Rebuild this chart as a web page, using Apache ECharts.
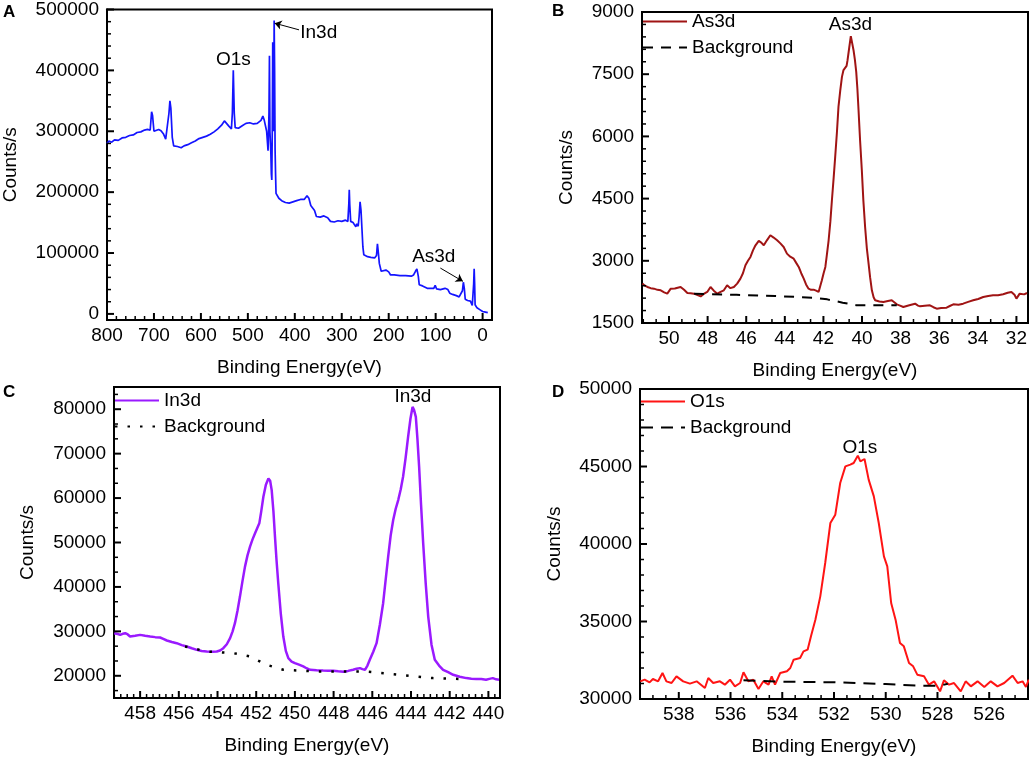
<!DOCTYPE html>
<html>
<head>
<meta charset="utf-8">
<script src="https://cdn.jsdelivr.net/npm/echarts@6/dist/echarts.min.js"></script>
<style>
html, body { margin: 0; padding: 0; background: #fff; }
#main { width: 1031px; height: 757px; }
</style>
</head>
<body>
<div id="main"></div>
<script>
const FONT = 'Liberation Sans';

// A: survey spectrum
const surveyE = [800,796,790,784,776,768,760,752,744,736,728,720,714,708,705,703,700,696,690,685,680,675,671,668,666,664,661,658,650,642,636,628,620,612,604,596,588,580,572,564,556,550,546,540,535,533,531,529,527,520,512,504,496,488,480,472,468,465,460,457,455,454,453,451,450,449,448,447,446,445,444,443,442,441,440,434,428,420,412,404,396,388,380,374,370,366,362,358,354,346,338,334,330,324,316,308,300,292,287,285,284,283,281,276,272,270,268,265,263,261,259,257,255,253,245,238,230,226,224,222,220,216,212,206,203,200,196,188,176,164,152,147,143,140,137,135,128,124,118,110,104,101,98,90,80,74,70,64,56,50,46,43,41,39,37,32,26,22,20,19,18,17,16,12,6,0,-6,-11];
const surveyC = [280000,284000,282000,286000,285000,289000,290000,293000,294000,298000,299000,302000,303000,302000,332000,326000,300000,298000,303000,301000,296000,287000,284000,330000,350000,338000,290000,276000,275000,273000,276000,278000,281000,284000,288000,290000,292000,295000,299000,304000,310000,317000,315000,308000,304000,330000,400000,330000,306000,305000,309000,313000,314000,312000,313000,318000,325000,318000,300000,268000,330000,424000,300000,264000,230000,220000,300000,446000,420000,300000,482000,400000,270000,230000,198000,190000,186000,183000,182000,184000,186000,188000,188000,194000,190000,178000,174000,170000,160000,159000,161000,164000,158000,152000,151000,153000,152000,154000,152000,180000,204000,180000,152000,150000,150000,143000,148000,144000,160000,184000,170000,140000,110000,97000,94000,93000,92000,96000,115000,100000,83000,70000,67000,72000,75000,69000,64000,64000,63000,63000,62000,64000,70000,74000,62000,48000,46000,44000,42000,42000,42000,47000,41000,40000,42000,40000,34000,32000,30000,28000,30000,38000,52000,42000,24000,22000,21000,14000,13000,50000,74000,50000,15000,10000,7000,4000,3000,2000];

// B: As3d
const as3dE = [51.38,51.25,51.12,50.95,50.78,50.60,50.43,50.25,50.09,49.91,49.70,49.55,49.40,49.22,49.05,48.88,48.71,48.55,48.36,48.20,48.02,47.85,47.68,47.50,47.33,47.16,46.99,46.82,46.64,46.47,46.30,46.17,46.04,45.91,45.78,45.65,45.52,45.35,45.22,45.09,44.92,44.75,44.58,44.40,44.23,44.06,43.89,43.72,43.54,43.41,43.28,43.15,43.02,42.90,42.77,42.64,42.51,42.38,42.25,42.16,42.08,41.99,41.90,41.82,41.73,41.64,41.56,41.47,41.39,41.30,41.22,41.13,41.04,40.96,40.87,40.80,40.75,40.66,40.58,40.51,40.44,40.37,40.30,40.24,40.18,40.10,40.01,39.93,39.84,39.75,39.66,39.58,39.49,39.40,39.32,39.10,38.89,38.66,38.46,38.33,38.20,38.03,37.86,37.55,37.25,37.10,36.99,36.75,36.48,36.30,36.13,35.90,35.62,35.45,35.27,35.00,34.76,34.50,34.24,33.98,33.72,33.46,33.21,32.95,32.69,32.45,32.26,32.10,32.00,31.83,31.60,31.45];
const as3dC = [2449,2400,2369,2340,2328,2300,2288,2240,2208,2328,2330,2350,2369,2300,2224,2220,2208,2180,2143,2200,2248,2369,2280,2208,2250,2288,2409,2340,2369,2450,2570,2700,2891,3000,3093,3250,3374,3479,3440,3374,3500,3615,3560,3495,3420,3334,3173,3100,3052,2950,2851,2700,2570,2430,2328,2300,2304,2280,2248,2400,2530,2700,2851,3150,3495,3950,4460,5000,5506,6100,6712,7100,7436,7600,7637,7700,7838,8150,8417,8250,8079,7850,7556,7150,6631,5900,5184,4450,3816,3300,2932,2600,2288,2120,2047,2020,2007,2030,2047,2000,1950,1920,1886,1930,1966,1920,1902,1915,1926,1880,1846,1860,1870,1910,1950,1940,1966,2010,2047,2080,2127,2150,2168,2170,2192,2230,2248,2180,2087,2208,2190,2224];
const as3dBgE = [48.7,46.5,44.5,42.5,41.8,41.0,40.3,38.2];
const as3dBgC = [2208,2180,2150,2110,2070,1990,1930,1926];

// C: In3d
const in3dE = [459.34,459.15,459.03,458.90,458.77,458.64,458.52,458.26,458.00,457.74,457.48,457.22,456.97,456.80,456.62,456.36,456.11,455.85,455.59,455.33,455.07,454.82,454.56,454.30,454.04,453.87,453.70,453.52,453.35,453.22,453.10,452.97,452.84,452.71,452.58,452.45,452.32,452.19,452.06,451.95,451.84,451.74,451.63,451.50,451.37,451.28,451.20,451.11,451.03,450.95,450.86,450.73,450.60,450.47,450.34,450.17,450.00,449.79,449.57,449.40,449.22,448.88,448.54,448.28,448.02,447.76,447.50,447.25,446.99,446.81,446.64,446.51,446.38,446.25,446.13,445.95,445.78,445.61,445.44,445.31,445.18,445.05,444.92,444.79,444.66,444.53,444.41,444.28,444.15,444.03,443.92,443.84,443.75,443.67,443.58,443.48,443.37,443.24,443.11,442.94,442.77,442.55,442.34,442.08,441.82,441.48,441.14,440.88,440.62,440.37,440.12,439.95,439.77,439.60,439.45];
const in3dC = [29588,29400,29213,29450,29588,29300,28839,29000,29213,29000,28839,28700,28614,28300,27940,27600,27341,26900,26592,26200,25843,25600,25468,25400,25468,25700,26217,27100,28464,30000,31835,34600,37828,41300,44569,47100,49064,50700,52060,53200,54307,57000,60299,63000,64419,63900,61797,57000,51311,46000,40824,34000,28839,25600,23970,23200,22846,22500,22097,21700,21348,21250,21198,21160,21124,21000,20899,21100,21348,21600,21723,21500,21348,22300,23596,25400,27341,31500,36330,41600,46816,51600,55056,57600,59550,62000,64794,69000,73783,77800,80524,79800,78277,73500,67041,58500,49812,40800,33333,27000,23596,22300,21348,20800,20225,19800,19476,19350,19251,19300,19101,19300,19476,19200,19101];
const in3dBgE = [455.68,454.56,453.18,452.32,451.46,450.6,448.88,446.3,444.58,442.86,441.14];
const in3dBgC = [26592,25468,25094,24345,22472,21348,20974,20974,20225,19476,19251];

// D: O1s
const o1sE = [539.49,539.32,539.13,539.00,538.80,538.63,538.48,538.28,538.09,537.83,537.57,537.31,536.99,536.86,536.67,536.41,536.22,536.02,535.83,535.63,535.50,535.31,535.12,534.92,534.73,534.53,534.41,534.28,534.08,533.82,533.69,533.56,533.31,533.18,533.02,532.89,532.72,532.53,532.34,532.14,531.95,531.76,531.56,531.37,531.24,531.08,530.98,530.82,530.66,530.46,530.27,530.07,529.94,529.79,529.62,529.45,529.30,529.10,528.94,528.78,528.52,528.33,528.13,527.90,527.75,527.55,527.36,527.10,526.91,526.71,526.45,526.19,525.94,525.68,525.42,525.10,524.90,524.71,524.58,524.47];
const o1sC = [31140,31247,31075,31290,31140,31677,31140,31032,31462,31140,30989,31140,30710,31355,31032,31140,30925,31247,30817,31032,31720,31140,31247,30645,31140,30925,31462,30925,31677,31785,32000,32538,32645,33075,33183,34043,35118,36623,38774,41355,41892,43935,45011,45118,45226,45699,45333,45484,44151,43075,41355,39204,38559,36194,35118,33613,33398,32323,32108,31570,31462,30925,31140,30495,31204,30925,31032,30495,31140,30817,31140,30774,31140,30817,31032,31505,31032,31140,30774,31247];
const o1sBgE = [535.5,534.0,532.0,530.0,528.7,527.9,527.6];
const o1sBgC = [31204,31120,31080,30960,30860,30860,30980];

// tick labels
const ticksAx = [800,700,600,500,400,300,200,100,0];
const ticksAy = [0,100000,200000,300000,400000,500000];
const ticksBx = [50,48,46,44,42,40,38,36,34,32];
const ticksBy = [1500,3000,4500,6000,7500,9000];
const ticksCx = [458,456,454,452,450,448,446,444,442,440];
const ticksCy = [20000,30000,40000,50000,60000,70000,80000];
const ticksDx = [538,536,534,532,530,528,526];
const ticksDy = [30000,35000,40000,45000,50000];

// annotation text and arrows in panel A
const surveyNotes = [
  { name: 'O1s', coord: [531, 417000] },
  { name: 'In3d', coord: [349, 461700] },
  { name: 'As3d', coord: [104, 94400] }
];
const surveyArrows = [
  [[391, 466600], [443, 477500]],
  [[90, 75300], [42, 53500]]
];

function pairs(xs, ys) {
  return xs.map((x, i) => [x, ys[i]]);
}

const txt = { color: '#000', fontSize: 19, fontFamily: FONT };
const grids = [], xAxis = [], yAxis = [], tickSeries = [];

// minor tick positions between (and just beyond) the labelled ticks
function minorValues(r) {
  const step = Math.abs(r.major[1] - r.major[0]) / (r.n + 1);
  const base = Math.min.apply(null, r.major);
  const k0 = Math.ceil((r.lo - base) / step + 1e-6), k1 = Math.floor((r.hi - base) / step - 1e-6);
  const out = [];
  for (let k = k0; k <= k1; k++) {
    if (k % (r.n + 1) !== 0) out.push(base + k * step);
  }
  return out;
}

// inward ticks drawn in the panel's own coordinate system
function ticksOn(axis, dim, values, other, len, width) {
  tickSeries.push({
    type: 'custom', xAxisIndex: axis, yAxisIndex: axis, silent: true, animation: false, z: 5,
    data: values.map(v => dim === 'x' ? [v, other] : [other, v]),
    renderItem: function (params, api) {
      const cs = params.coordSys;
      const p = api.coord([api.value(0), api.value(1)]);
      const shape = dim === 'x'
        ? { x1: p[0], y1: cs.y + cs.height, x2: p[0], y2: cs.y + cs.height - len }
        : { x1: cs.x, y1: p[1], x2: cs.x + len, y2: p[1] };
      return { type: 'line', shape: shape, style: { stroke: '#000', lineWidth: width } };
    }
  });
}

function panel(g, xr, yr, yGap) {
  const i = grids.length;
  grids.push(Object.assign({ show: true, borderColor: '#000', borderWidth: 2, backgroundColor: 'transparent' }, g));
  xAxis.push({
    type: 'value', gridIndex: i, min: xr.lo, max: xr.hi, inverse: true, position: 'bottom',
    axisLine: { onZero: false, lineStyle: { color: '#000', width: 2 } }, axisTick: { show: false },
    axisLabel: Object.assign({ customValues: xr.major, formatter: v => String(v), margin: 6 }, txt),
    splitLine: { show: false },
    name: 'Binding Energy(eV)', nameLocation: 'middle', nameGap: 38, nameTextStyle: txt
  });
  yAxis.push({
    type: 'value', gridIndex: i, min: yr.lo, max: yr.hi, position: 'left',
    axisLine: { show: true, onZero: false, lineStyle: { color: '#000', width: 2 } }, axisTick: { show: false },
    axisLabel: Object.assign({ customValues: yr.major, formatter: v => String(v), margin: 8 }, txt),
    splitLine: { show: false },
    name: 'Counts/s', nameLocation: 'middle', nameGap: yGap, nameTextStyle: txt
  });
  ticksOn(i, 'x', minorValues(xr), yr.lo, 4, 1.5);
  ticksOn(i, 'x', xr.major, yr.lo, 7, 2);
  ticksOn(i, 'y', minorValues(yr), xr.lo, 4, 1.5);
  ticksOn(i, 'y', yr.major, xr.lo, 7, 2);
  return i;
}

const pA = panel({ left: 106, top: 9, width: 386, height: 311 },
  { lo: -20, hi: 800, major: ticksAx, n: 4 }, { lo: -10000, hi: 500000, major: ticksAy, n: 4 }, 87);
const pB = panel({ left: 642, top: 12, width: 386, height: 311 },
  { lo: 31.4, hi: 51.4, major: ticksBx, n: 2 }, { lo: 1500, hi: 9000, major: ticksBy, n: 4 }, 66);
const pC = panel({ left: 114, top: 387, width: 386, height: 311 },
  { lo: 439.4, hi: 459.35, major: ticksCx, n: 5 }, { lo: 15000, hi: 85000, major: ticksCy, n: 2 }, 77);
const pD = panel({ left: 640, top: 389, width: 388, height: 310 },
  { lo: 524.5, hi: 539.5, major: ticksDx, n: 3 }, { lo: 30000, hi: 50000, major: ticksDy, n: 4 }, 76);

function lineSeries(name, axis, data, color, width, type) {
  return {
    type: 'line', name: name, xAxisIndex: axis, yAxisIndex: axis, data: data,
    symbol: 'none', showSymbol: false, animation: false,
    lineStyle: { color: color, width: width, type: type || 'solid' },
    itemStyle: { color: color }
  };
}

function peakLabel(name, coord) {
  return {
    symbol: 'rect', symbolSize: 1, silent: true,
    itemStyle: { color: 'transparent' },
    label: Object.assign({ show: true, position: 'inside', formatter: '{b}' }, txt),
    data: [{ name: name, coord: coord }]
  };
}

function legendAt(left, top, names) {
  return {
    left: left, top: top, orient: 'vertical', padding: 0,
    itemWidth: 44, itemHeight: 14, itemGap: 7,
    selectedMode: false, data: names,
    itemStyle: { opacity: 0 },
    formatter: n => n.split(' ')[0],
    textStyle: txt
  };
}

const survey = lineSeries('Survey', pA, pairs(surveyE, surveyC), '#1414ff', 1.7);
survey.markPoint = {
  symbol: 'rect', symbolSize: 1, silent: true,
  itemStyle: { color: 'transparent' },
  label: Object.assign({ show: true, position: 'inside', formatter: '{b}' }, txt),
  data: surveyNotes
};
survey.markLine = {
  silent: true, symbol: ['none', 'arrow'], symbolSize: 7, animation: false,
  label: { show: false },
  lineStyle: { color: '#000', width: 1, type: 'solid' },
  data: surveyArrows.map(a => [{ coord: a[0] }, { coord: a[1] }])
};

const as3d = lineSeries('As3d', pB, pairs(as3dE, as3dC), '#a01414', 2);
as3d.markPoint = peakLabel('As3d', [40.6, 8700]);
const in3d = lineSeries('In3d', pC, pairs(in3dE, in3dC), '#9a1aff', 2.5);
in3d.markPoint = peakLabel('In3d', [443.9, 82800]);
const o1s = lineSeries('O1s', pD, pairs(o1sE, o1sC), '#ff1414', 2);
o1s.markPoint = peakLabel('O1s', [531.0, 46200]);

const series = [
  survey,
  as3d,
  lineSeries('Background B', pB, pairs(as3dBgE, as3dBgC), '#000', 2, [10, 8]),
  in3d,
  lineSeries('Background C', pC, pairs(in3dBgE, in3dBgC), '#000', 2.5, [2.5, 10]),
  o1s,
  lineSeries('Background D', pD, pairs(o1sBgE, o1sBgC), '#000', 2, [12, 8])
].concat(tickSeries);

const letters = [['A', 3, 4], ['B', 552, 3], ['C', 3, 384], ['D', 552, 384]];

const chart = echarts.init(document.getElementById('main'));
chart.setOption({
  animation: false,
  backgroundColor: '#fff',
  grid: grids,
  xAxis: xAxis,
  yAxis: yAxis,
  legend: [
    legendAt(642, 12, ['As3d', 'Background B']),
    legendAt(114, 391, ['In3d', 'Background C']),
    legendAt(640, 392, ['O1s', 'Background D'])
  ],
  series: series,
  graphic: letters.map(l => ({
    type: 'text', left: l[1], top: l[2],
    style: { text: l[0], font: 'bold 17px ' + FONT, fill: '#000' }
  }))
});
</script>
</body>
</html>
